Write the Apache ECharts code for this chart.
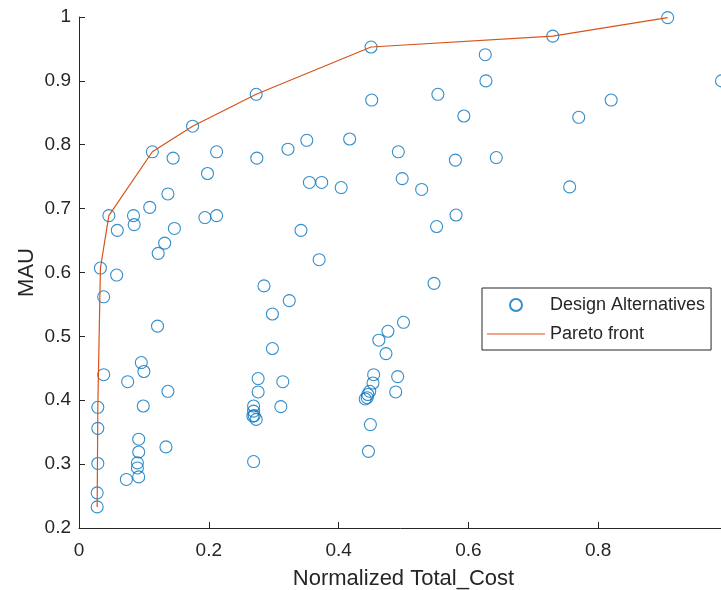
<!DOCTYPE html>
<html>
<head>
<meta charset="utf-8">
<script src="https://cdn.jsdelivr.net/npm/echarts@6/dist/echarts.min.js"></script>
<style>
  html, body { margin: 0; padding: 0; background: #fff; }
  #chart { width: 721px; height: 590px; }
</style>
</head>
<body>
<div id="chart"></div>
<script>
// design alternatives (cost, MAU)
const costs = [
  0.028, 0.028, 0.029, 0.029, 0.029, 0.033, 0.046, 0.113, 0.175, 0.273, 0.450, 0.730, 0.907,
  0.038, 0.145, 0.212, 0.198, 0.137, 0.109, 0.084, 0.085, 0.059, 0.147, 0.132, 0.122, 0.194,
  0.212, 0.058, 0.274, 0.322, 0.351, 0.417, 0.355, 0.374, 0.404, 0.342, 0.370, 0.285, 0.324,
  0.626, 0.627, 0.451, 0.553, 0.593, 0.770, 0.820, 0.990, 0.492, 0.580, 0.643, 0.498, 0.528,
  0.756, 0.581, 0.551, 0.547,
  0.121, 0.298, 0.298, 0.096, 0.100, 0.038, 0.075, 0.137, 0.099, 0.092, 0.092, 0.134, 0.090,
  0.090, 0.092, 0.073,
  0.276, 0.276, 0.314, 0.311, 0.269, 0.269, 0.268, 0.270, 0.273, 0.269,
  0.500, 0.476, 0.462, 0.473, 0.454, 0.453, 0.491, 0.488, 0.448, 0.445, 0.444, 0.441, 0.449, 0.446
]
const maus = [
  0.233, 0.255, 0.301, 0.356, 0.389, 0.607, 0.689, 0.789, 0.829, 0.879, 0.953, 0.970, 0.999,
  0.562, 0.779, 0.789, 0.755, 0.723, 0.702, 0.689, 0.675, 0.666, 0.669, 0.646, 0.630, 0.686,
  0.689, 0.596, 0.779, 0.793, 0.807, 0.809, 0.741, 0.741, 0.733, 0.666, 0.620, 0.579, 0.556,
  0.941, 0.900, 0.870, 0.879, 0.845, 0.843, 0.870, 0.900, 0.789, 0.776, 0.780, 0.747, 0.730,
  0.734, 0.690, 0.672, 0.583,
  0.516, 0.535, 0.481, 0.459, 0.445, 0.440, 0.429, 0.414, 0.391, 0.339, 0.319, 0.327, 0.302,
  0.294, 0.280, 0.276,
  0.434, 0.413, 0.429, 0.390, 0.391, 0.383, 0.375, 0.376, 0.370, 0.304,
  0.522, 0.508, 0.494, 0.473, 0.440, 0.427, 0.437, 0.413, 0.414, 0.409, 0.404, 0.402, 0.362, 0.320
]
// pareto front
const paretoCost = [0.028, 0.029, 0.033, 0.046, 0.113, 0.175, 0.273, 0.450, 0.730, 0.907]
const paretoMau = [0.233, 0.389, 0.607, 0.689, 0.789, 0.829, 0.879, 0.953, 0.970, 0.999]

const yTicks = [0.2, 0.3, 0.4, 0.5, 0.6, 0.7, 0.8, 0.9, 1]

const textColor = '#262626'
const fontFamily = 'Liberation Sans, Arial, sans-serif'

const chart = echarts.init(document.getElementById('chart'))
chart.setOption({
  animation: false,
  grid: { left: 79, right: -7, top: 17, bottom: 62, outerBoundsMode: 'none', containLabel: false },
  legend: {
    orient: 'vertical',
    left: 482,
    top: 288,
    padding: [8, 6, 7, 5],
    itemWidth: 58,
    itemHeight: 12,
    itemGap: 11,
    borderColor: '#262626',
    borderWidth: 1,
    borderRadius: 0,
    backgroundColor: '#fff',
    textStyle: { fontSize: 18, color: textColor, fontFamily: fontFamily },
    data: [
      { name: 'Design Alternatives' },
      { name: 'Pareto front', icon: 'path://M0 0H58V1H0Z' }
    ]
  },
  xAxis: {
    type: 'value',
    min: 0,
    max: 1,
    interval: 0.2,
    name: 'Normalized Total_Cost',
    nameLocation: 'middle',
    nameGap: 40,
    nameMoveOverlap: false,
    nameTextStyle: { fontSize: 22, color: textColor, fontFamily: fontFamily },
    axisLine: { lineStyle: { color: textColor, width: 1 } },
    axisTick: { inside: true, length: 6, lineStyle: { color: textColor } },
    axisLabel: { fontSize: 19, color: textColor, fontFamily: fontFamily, margin: 13 },
    splitLine: { show: false }
  },
  yAxis: {
    type: 'value',
    min: 0.2,
    max: 1,
    interval: 0.1,
    name: 'MAU',
    nameLocation: 'middle',
    nameGap: 41,
    nameMoveOverlap: false,
    nameTextStyle: { fontSize: 22, color: textColor, fontFamily: fontFamily },
    axisLine: { show: true, lineStyle: { color: textColor, width: 1 } },
    axisTick: { show: true, inside: true, length: 6, lineStyle: { color: textColor } },
    axisLabel: {
      fontSize: 19, color: textColor, fontFamily: fontFamily, margin: 8,
      formatter: function (v) {
        const t = yTicks.find(function (k) { return Math.abs(k - v) < 1e-6 })
        return t === undefined ? '' : String(t)
      }
    },
    splitLine: { show: false }
  },
  series: [
    {
      name: 'Design Alternatives',
      type: 'scatter',
      symbol: 'circle',
      symbolSize: 12,
      itemStyle: { color: 'rgba(0,0,0,0)', borderColor: '#0072BD', borderWidth: 1.1 },
      data: costs.map(function (c, i) { return [c, maus[i]] })
    },
    {
      name: 'Pareto front',
      type: 'line',
      symbol: 'none',
      lineStyle: { color: '#D95319', width: 1.2 },
      itemStyle: { color: '#D95319' },
      data: paretoCost.map(function (c, i) { return [c, paretoMau[i]] })
    }
  ]
})
</script>
</body>
</html>
